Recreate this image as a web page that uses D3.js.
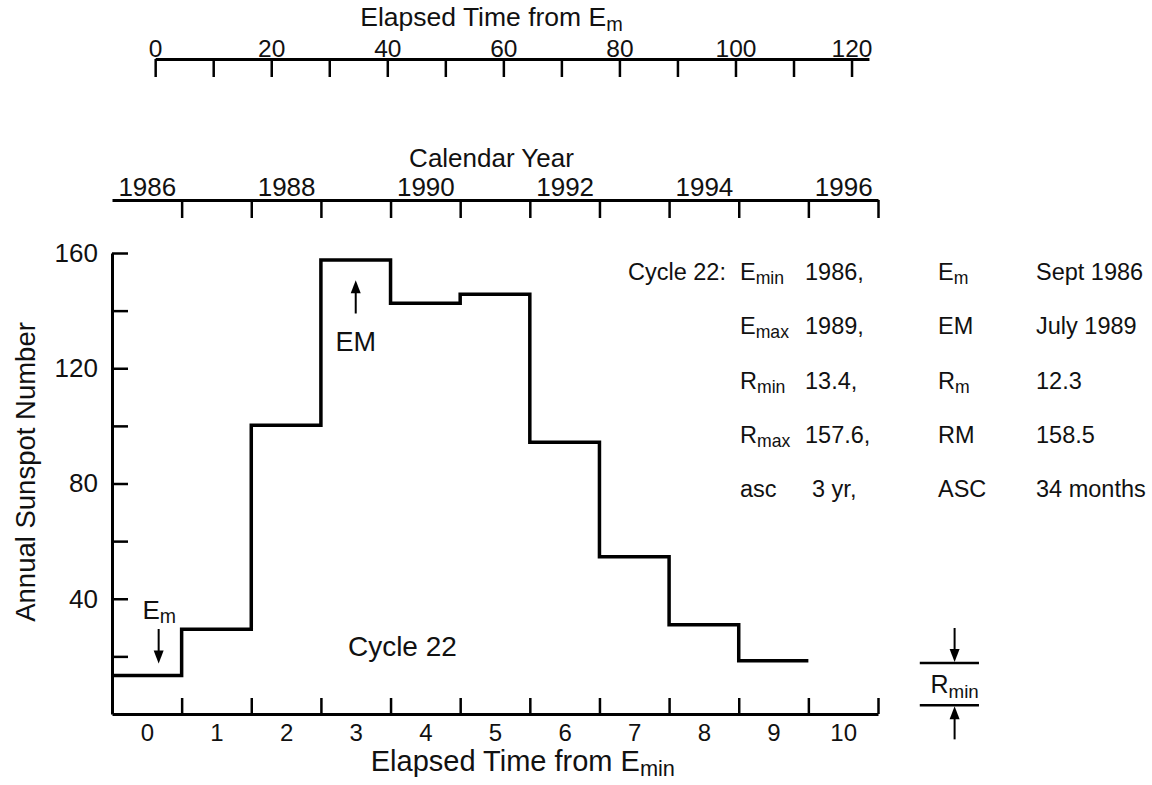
<!DOCTYPE html>
<html>
<head>
<meta charset="utf-8">
<script src="https://cdn.jsdelivr.net/npm/d3@7"></script>
<style>
  body { margin: 0; background: #fff; }
  svg text { font-family: "Liberation Sans", Arial, Helvetica, sans-serif; fill: #111; }
</style>
</head>
<body>
<div id="chart"></div>
<script>
// Annual sunspot numbers, cycle 22 (year index 0 = 1986)
const years = [0, 1, 2, 3, 4, 5, 6, 7, 8, 9];
const sunspots = [13.4, 29.4, 100.2, 157.6, 142.6, 145.7, 94.3, 54.6, 31, 18.5];

// axis ticks
const yTicks = [20, 40, 60, 80, 100, 120, 140, 160];
const yLabels = [40, 80, 120, 160];
const xLabels = [0, 1, 2, 3, 4, 5, 6, 7, 8, 9, 10];
const yearEdges = [0.5, 1.5, 2.5, 3.5, 4.5, 5.5, 6.5, 7.5, 8.5, 9.5, 10.5];
const calendarYears = [1986, 1988, 1990, 1992, 1994, 1996];
const monthTicks = [0, 10, 20, 30, 40, 50, 60, 70, 80, 90, 100, 110, 120];
const monthLabels = [0, 20, 40, 60, 80, 100, 120];

// markers (in years from Emin)
const emPos = 0.12;   // Em, Sept 1986
const bigEmPos = 3.0; // EM, July 1989
const rminBracket = [3, 17.7];

// text block on the right
const infoLead = ["Cycle 22:", "", "", "", ""];
const infoSym1 = [["E", "min"], ["E", "max"], ["R", "min"], ["R", "max"], ["asc", ""]];
const infoVal1 = ["1986,", "1989,", "13.4,", "157.6,", "3 yr,"];
const infoSym2 = [["E", "m"], ["EM", ""], ["R", "m"], ["RM", ""], ["ASC", ""]];
const infoVal2 = ["Sept 1986", "July 1989", "12.3", "158.5", "34 months"];

const width = 1152, height = 785;
const svg = d3.select("#chart").append("svg")
    .attr("width", width)
    .attr("height", height);

const x = d3.scaleLinear().domain([-0.5, 10.5]).range([112, 878]);
const y = d3.scaleLinear().domain([0, 160]).range([714, 253]);
const xm = d3.scaleLinear().domain([0, 123]).range([x(emPos), x(emPos + 123 / 12)]);

const font = "'Liberation Sans', Arial, Helvetica, sans-serif";

function styleAxis(g, size) {
    g.attr("font-family", font).attr("font-size", size);
    g.select(".domain").attr("stroke", "#000").attr("stroke-width", 3);
    g.selectAll(".tick line").attr("stroke", "#000").attr("stroke-width", 2.5);
    g.selectAll(".tick text").attr("fill", "#111");
}

// text with optional subscript
function subText(sel, main, sub, size) {
    sel.append("tspan").text(main);
    if (sub) {
        sel.append("tspan").attr("font-size", size * 0.75).attr("dy", size * 0.17).text(sub);
    }
    return sel;
}

function arrow(xPos, yTail, yTip) {
    const dir = yTip > yTail ? 1 : -1;
    svg.append("line")
        .attr("x1", xPos).attr("x2", xPos)
        .attr("y1", yTail).attr("y2", yTip - dir * 10)
        .attr("stroke", "#000").attr("stroke-width", 2);
    svg.append("path")
        .attr("d", `M${xPos - 5},${yTip - dir * 13}L${xPos + 5},${yTip - dir * 13}L${xPos},${yTip}Z`)
        .attr("fill", "#000");
}

// ---- top axis: elapsed time from Em (months)
const monthY = 59;
svg.append("g")
    .attr("transform", `translate(0,${monthY})`)
    .call(d3.axisTop(xm).tickValues(monthTicks).tickSizeInner(-18).tickSizeOuter(0).tickPadding(2)
        .tickFormat(d => monthLabels.includes(d) ? d : ""))
    .call(g => styleAxis(g, 24.5));

subText(svg.append("text")
    .attr("x", x(4.95)).attr("y", 26)
    .attr("text-anchor", "middle")
    .attr("font-size", 26.5), "Elapsed Time from E", "m", 26.5);

// ---- calendar year axis
const calY = 200;
svg.append("g")
    .attr("transform", `translate(0,${calY})`)
    .call(d3.axisTop(x).tickValues(yearEdges).tickSizeInner(-18).tickSizeOuter(0).tickFormat(""))
    .call(g => styleAxis(g, 26));
svg.append("g")
    .attr("transform", `translate(0,${calY})`)
    .call(d3.axisTop(x).tickValues(calendarYears.map(d => d - 1986)).tickSize(0).tickPadding(4)
        .tickFormat(d => 1986 + d))
    .call(g => styleAxis(g, 26))
    .call(g => g.select(".domain").remove());

svg.append("text")
    .attr("x", x(4.95)).attr("y", 167)
    .attr("text-anchor", "middle")
    .attr("font-size", 26)
    .text("Calendar Year");

// ---- main axes
svg.append("g")
    .attr("transform", `translate(0,${y(0)})`)
    .call(d3.axisBottom(x).tickValues(yearEdges).tickSizeInner(-16).tickSizeOuter(0).tickFormat(""))
    .call(g => styleAxis(g, 24));
svg.append("g")
    .attr("transform", `translate(0,${y(0)})`)
    .call(d3.axisBottom(x).tickValues(xLabels).tickSize(0).tickPadding(10))
    .call(g => styleAxis(g, 24))
    .call(g => g.select(".domain").remove());

svg.append("g")
    .attr("transform", `translate(${x(-0.5)},0)`)
    .call(d3.axisLeft(y).tickValues(yTicks).tickSizeInner(-16).tickSizeOuter(0).tickPadding(14)
        .tickFormat(d => yLabels.includes(d) ? d : ""))
    .call(g => styleAxis(g, 26));

subText(svg.append("text")
    .attr("x", x(5.4)).attr("y", 771)
    .attr("text-anchor", "middle")
    .attr("font-size", 29), "Elapsed Time from E", "min", 29);

svg.append("text")
    .attr("transform", `translate(35,${y(84)}) rotate(-90)`)
    .attr("text-anchor", "middle")
    .attr("font-size", 27.5)
    .text("Annual Sunspot Number");

// ---- step curve
const stepData = sunspots.map((v, i) => [years[i] - 0.5, v]);
stepData.push([years[years.length - 1] + 0.5, sunspots[sunspots.length - 1]]);

svg.append("path")
    .datum(stepData)
    .attr("fill", "none")
    .attr("stroke", "#000")
    .attr("stroke-width", 3.5)
    .attr("stroke-linejoin", "miter")
    .attr("d", d3.line().x(d => x(d[0])).y(d => y(d[1])).curve(d3.curveStepAfter));

// ---- markers
subText(svg.append("text")
    .attr("x", x(emPos) + 4).attr("y", y(33))
    .attr("text-anchor", "middle")
    .attr("font-size", 26), "E", "m", 26);
arrow(x(emPos + 0.05), y(29.5), y(17.5));

arrow(x(bigEmPos), y(139), y(150.5));
svg.append("text")
    .attr("x", x(bigEmPos)).attr("y", y(126))
    .attr("text-anchor", "middle")
    .attr("font-size", 27)
    .text("EM");

svg.append("text")
    .attr("x", x(3.67)).attr("y", y(20))
    .attr("text-anchor", "middle")
    .attr("font-size", 28)
    .text("Cycle 22");

// ---- Rmin bracket
const bx0 = x(11.1), bx1 = x(11.95), bxm = x(11.6);
rminBracket.forEach(v => {
    svg.append("line")
        .attr("x1", bx0).attr("x2", bx1)
        .attr("y1", y(v)).attr("y2", y(v))
        .attr("stroke", "#000").attr("stroke-width", 2.5);
});
arrow(bxm, y(rminBracket[1]) - 35, y(rminBracket[1]) - 1);
arrow(bxm, y(rminBracket[0]) + 34, y(rminBracket[0]) + 1);
subText(svg.append("text")
    .attr("x", bxm).attr("y", y(rminBracket[0]) - 12)
    .attr("text-anchor", "middle")
    .attr("font-size", 25), "R", "min", 25);

// ---- info text block
const infoSize = 23.5;
const rowY = i => 280 + i * 54.3;
infoLead.forEach((t, i) => {
    const by = rowY(i);
    svg.append("text").attr("x", 628).attr("y", by).attr("font-size", infoSize).text(t);
    subText(svg.append("text").attr("x", 740).attr("y", by).attr("font-size", infoSize),
        infoSym1[i][0], infoSym1[i][1], infoSize);
    svg.append("text").attr("x", i === 4 ? 812 : 805).attr("y", by).attr("font-size", infoSize).text(infoVal1[i]);
    subText(svg.append("text").attr("x", 938).attr("y", by).attr("font-size", infoSize),
        infoSym2[i][0], infoSym2[i][1], infoSize);
    svg.append("text").attr("x", 1036).attr("y", by).attr("font-size", infoSize).text(infoVal2[i]);
});
</script>
</body>
</html>
